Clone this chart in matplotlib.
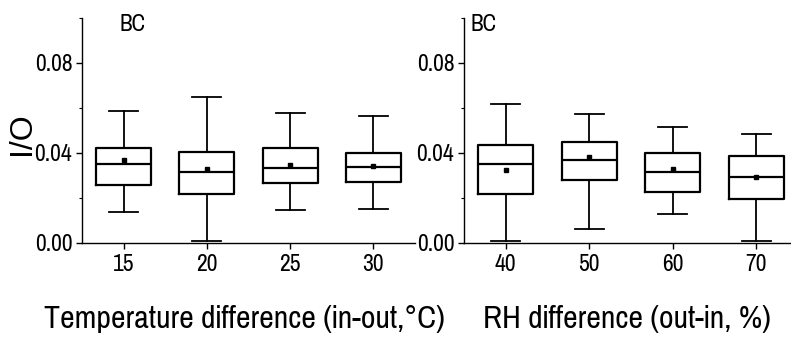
import matplotlib
matplotlib.use("Agg")
import matplotlib.pyplot as plt
from matplotlib.ticker import MultipleLocator

plt.rcParams['font.family'] = ['Pragati Narrow', 'DejaVu Sans']

# I/O ratio box statistics
temp_labels = ["15", "20", "25", "30"]
temp_whislo = [0.0139, 0.0010, 0.0147, 0.0150]
temp_q1 = [0.0256, 0.0216, 0.0265, 0.0271]
temp_med = [0.0350, 0.0316, 0.0335, 0.0339]
temp_q3 = [0.0421, 0.0406, 0.0424, 0.0399]
temp_whishi = [0.0587, 0.0649, 0.0579, 0.0564]
temp_mean = [0.0369, 0.0327, 0.0348, 0.0344]

rh_labels = ["40", "50", "60", "70"]
rh_whislo = [0.0010, 0.0061, 0.0127, 0.0010]
rh_q1 = [0.0216, 0.0280, 0.0228, 0.0194]
rh_med = [0.0351, 0.0369, 0.0316, 0.0295]
rh_q3 = [0.0434, 0.0450, 0.0399, 0.0387]
rh_whishi = [0.0616, 0.0572, 0.0517, 0.0484]
rh_mean = [0.0323, 0.0381, 0.0329, 0.0295]


def make_stats(labels, lo, q1, med, q3, hi, mean):
    stats = []
    for i in range(len(labels)):
        stats.append(dict(label=labels[i], whislo=lo[i], q1=q1[i], med=med[i],
                          q3=q3[i], whishi=hi[i], mean=mean[i], fliers=[]))
    return stats


def draw_panel(ax, stats, xlabel, label_x):
    lw = 1.6
    ax.bxp(stats, widths=0.66, showmeans=True, showfliers=False,
           boxprops=dict(color="black", linewidth=lw),
           medianprops=dict(color="black", linewidth=lw),
           whiskerprops=dict(color="black", linewidth=1.3),
           capprops=dict(color="black", linewidth=1.3),
           capwidths=0.35,
           meanprops=dict(marker="s", markerfacecolor="black",
                          markeredgecolor="black", markersize=3.5))
    ax.set_xlim(0.5, 4.5)
    ax.set_ylim(0, 0.1)
    ax.yaxis.set_major_locator(MultipleLocator(0.04))
    ax.yaxis.set_minor_locator(MultipleLocator(0.02))
    ax.yaxis.set_major_formatter(plt.FuncFormatter(lambda v, p: "%.2f" % v))
    ax.spines["top"].set_visible(False)
    ax.spines["right"].set_visible(False)
    ax.spines["left"].set_linewidth(1.0)
    ax.spines["bottom"].set_linewidth(1.0)
    ax.tick_params(axis="both", which="major", labelsize=18.5, length=4, width=1.0)
    ax.tick_params(axis="x", which="major", pad=4)
    ax.tick_params(axis="y", which="major", pad=3)
    ax.tick_params(axis="y", which="minor", length=2, width=0.8)
    ax.set_xlabel(xlabel, fontsize=25, va="baseline")
    ax.xaxis.set_label_coords(label_x, 0.027, transform=ax.figure.transFigure)


fig = plt.figure(figsize=(7.91, 3.37), dpi=100)
ax1 = fig.add_axes([0.1037, 0.279, 0.421, 0.668])
ax2 = fig.add_axes([0.5866, 0.279, 0.4223, 0.668])

draw_panel(ax1, make_stats(temp_labels, temp_whislo, temp_q1, temp_med, temp_q3, temp_whishi, temp_mean),
           "Temperature difference (in-out,°C)", 0.3085)
draw_panel(ax2, make_stats(rh_labels, rh_whislo, rh_q1, rh_med, rh_q3, rh_whishi, rh_mean),
           "RH difference (out-in, %)", 0.7927)

ax1.set_ylabel("I/O", fontsize=23, va="center", family=["Liberation Sans", "DejaVu Sans"])
ax1.yaxis.set_label_coords(0.028, 0.602, transform=fig.transFigure)
fig.text(0.168, 0.926, "BC", fontsize=18, ha="center", va="center")
fig.text(0.611, 0.926, "BC", fontsize=18, ha="center", va="center")

fig.savefig("out.png", dpi=100)
